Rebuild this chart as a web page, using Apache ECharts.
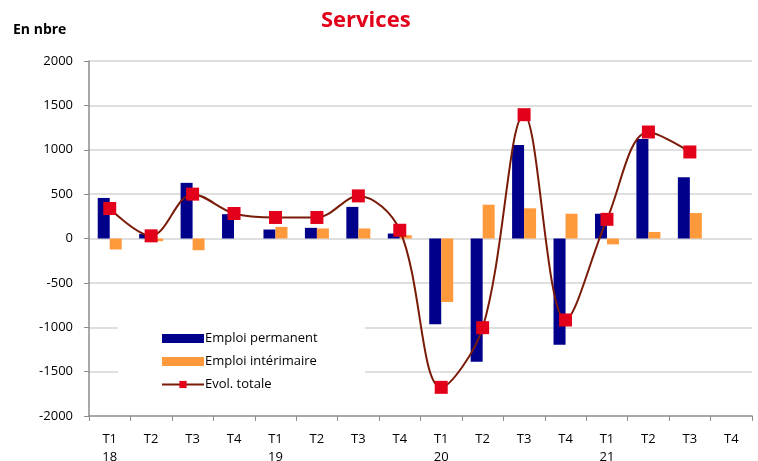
<!DOCTYPE html>
<html>
<head>
<meta charset="utf-8">
<script src="https://cdn.jsdelivr.net/npm/echarts@6/dist/echarts.min.js"></script>
<style>
  html, body { margin: 0; padding: 0; background: #fff; }
  #chart { width: 758px; height: 461px; }
</style>
</head>
<body>
<div id="chart"></div>
<script>
// trimestres T1 2018 -> T4 2021
const quarters = ['T1\n18', 'T2', 'T3', 'T4', 'T1\n19', 'T2', 'T3', 'T4',
  'T1\n20', 'T2', 'T3', 'T4', 'T1\n21', 'T2', 'T3', 'T4'];
const permanent = [457, 50, 627, 274, 101, 120, 356, 56, -967, -1388, 1053, -1196, 279, 1121, 690, null];
const interim = [-124, -30, -132, 0, 131, 113, 113, 37, -715, 381, 340, 279, -66, 73, 287, null];
const total = [338, 30, 500, 282, 237, 237, 480, 93, -1677, -1005, 1395, -918, 216, 1200, 975, null];

const FONT = '"Open Sans", "Noto Sans", sans-serif';
const chart = echarts.init(document.getElementById('chart'), null, { renderer: 'canvas' });

chart.setOption({
  backgroundColor: '#fff',
  animation: false,
  title: {
    text: 'Services',
    left: 316,
    top: 5,
    textStyle: { color: '#e2001a', fontSize: 22, fontWeight: 'bold', fontFamily: FONT },
  },
  graphic: [
    {
      type: 'text', left: 13, top: 23,
      style: { text: 'En nbre', fill: '#000', font: 'bold 14px ' + FONT },
    },
    {
      // fond blanc de la légende
      type: 'rect', left: 118, top: 318, z: 5,
      shape: { width: 247, height: 80 },
      style: { fill: '#fff' },
    },
  ],
  legend: {
    orient: 'vertical',
    left: 156,
    top: 327,
    itemGap: 10,
    itemWidth: 42,
    itemHeight: 9,
    z: 10,
    textStyle: { fontSize: 13, color: '#000', fontFamily: FONT, padding: [0, 0, 0, -4] },
    data: [
      { name: 'Emploi permanent', icon: 'rect' },
      { name: 'Emploi intérimaire', icon: 'rect' },
      { name: 'Evol. totale' },
    ],
  },
  grid: { left: 89, right: 6, top: 61, bottom: 45, outerBoundsMode: 'none' },
  xAxis: [
    {
      type: 'category',
      data: quarters,
      axisLine: { show: false },
      axisTick: { show: false },
      axisLabel: { color: '#000', fontSize: 13, fontFamily: FONT, lineHeight: 18, margin: 14, align: 'center' },
    },
    {
      type: 'category',
      data: quarters,
      position: 'bottom',
      axisLine: { onZero: true, lineStyle: { color: '#8c8c8c', width: 1.5 } },
      axisTick: { show: true, length: 5, lineStyle: { color: '#8c8c8c' } },
      axisLabel: { show: false },
    },
  ],
  yAxis: {
    type: 'value',
    min: -2000,
    max: 2000,
    interval: 500,
    axisLine: { show: true, lineStyle: { color: '#8c8c8c', width: 1.5 } },
    axisTick: { show: true, length: 5, lineStyle: { color: '#8c8c8c' } },
    axisLabel: { color: '#000', fontSize: 13, fontFamily: FONT, margin: 16, formatter: (v) => String(v) },
    splitLine: {
      lineStyle: {
        color: ['rgba(0,0,0,0)', '#d4d4d4', '#d4d4d4', '#d4d4d4', '#d4d4d4',
          '#d4d4d4', '#d4d4d4', '#d4d4d4', '#d4d4d4'],
        width: 1.5,
      },
    },
  },
  series: [
    {
      name: 'Emploi permanent',
      type: 'bar',
      data: permanent,
      barWidth: 12,
      barGap: '0%',
      itemStyle: { color: '#00008b' },
    },
    {
      name: 'Emploi intérimaire',
      type: 'bar',
      data: interim,
      barWidth: 12,
      barGap: '0%',
      itemStyle: { color: '#ff9a3c' },
    },
    {
      name: 'Evol. totale',
      type: 'line',
      data: total,
      smooth: 0.35,
      symbol: 'rect',
      symbolSize: 13,
      z: 4,
      lineStyle: { color: '#7a1a08', width: 2 },
      itemStyle: { color: '#e2001a' },
    },
  ],
});
</script>
</body>
</html>
